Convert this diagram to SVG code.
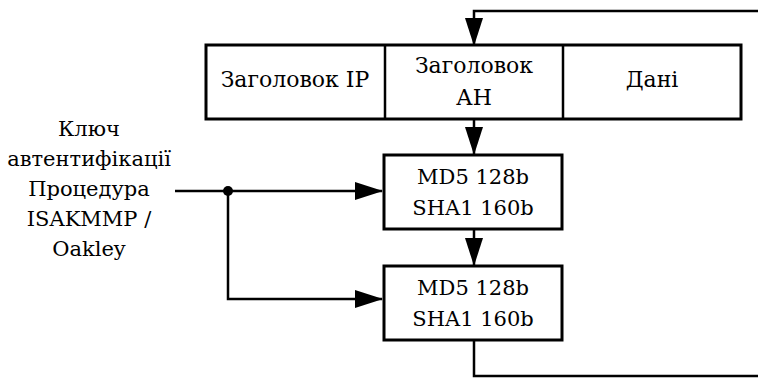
<svg xmlns="http://www.w3.org/2000/svg" width="760" height="380" viewBox="0 0 760 380">
<defs>
<style>
.box{fill:#ffffff;stroke:#000000;stroke-width:3}
.ln{fill:none;stroke:#000000;stroke-width:2.5}
.t{font-family:'DejaVu Serif',serif;text-anchor:middle;fill:#000000}
</style>
<marker id="ah" markerUnits="userSpaceOnUse" markerWidth="28" markerHeight="18" refX="27" refY="9" orient="auto" viewBox="0 0 28 18">
<path d="M0,0 L28,9 L0,18 z" fill="#000000"/>
</marker>
</defs>
<rect x="0" y="0" width="760" height="380" fill="#ffffff"/>
<g id="connectors">
<polyline class="ln" points="758,11 474,11 474,45" marker-end="url(#ah)"/>
<line class="ln" x1="474" y1="120" x2="474" y2="154" marker-end="url(#ah)"/>
<line class="ln" x1="474" y1="230" x2="474" y2="265" marker-end="url(#ah)"/>
<polyline class="ln" points="474,341 474,376 758,376"/>
<line class="ln" x1="175" y1="191" x2="382" y2="191" marker-end="url(#ah)"/>
<polyline class="ln" points="228,191 228,299 382,299" marker-end="url(#ah)"/>
<circle cx="228" cy="191" r="5" fill="#000000"/>
</g>
<g id="packet">
<rect class="box" x="206" y="45" width="535" height="74"/>
<line class="ln" x1="385" y1="45" x2="385" y2="119" stroke-width="3"/>
<line class="ln" x1="563" y1="45" x2="563" y2="119" stroke-width="3"/>
</g>
<g class="t" font-size="22">
<g id="ip-header"><text x="295" y="87">Заголовок IP</text></g>
<g id="ah-header"><text x="474" y="73">Заголовок</text><text x="474" y="105">АН</text></g>
<g id="data"><text x="652" y="87">Дані</text></g>
</g>
<g class="t" font-size="21">
<g id="hash1">
<rect class="box" x="384" y="155" width="178" height="74"/>
<text x="473" y="184">MD5 128b</text>
<text x="473" y="215">SHA1 160b</text>
</g>
<g id="hash2">
<rect class="box" x="384" y="266" width="178" height="74"/>
<text x="473" y="295">MD5 128b</text>
<text x="473" y="326">SHA1 160b</text>
</g>
<g id="key-label">
<text x="89" y="136">Ключ</text>
<text x="89" y="166">автентифікації</text>
<text x="89" y="196">Процедура</text>
<text x="89" y="226">ISAKMMP /</text>
<text x="89" y="256">Oakley</text>
</g>
</g>
</svg>
